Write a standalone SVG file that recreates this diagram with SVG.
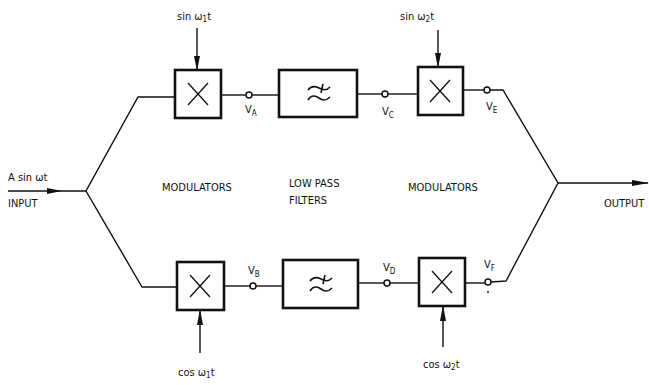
<svg xmlns="http://www.w3.org/2000/svg" width="649" height="385" viewBox="0 0 649 385">
<style>
.ln{fill:none;stroke:#111;stroke-width:1.4}
.bx{fill:#fff;stroke:#111;stroke-width:2.6}
.x{stroke:#111;stroke-width:1.3;fill:none}
.f{stroke:#111;stroke-width:1.6;fill:none}
.c{fill:#fff;stroke:#111;stroke-width:1.5}
.ah{fill:#111}
text{font-family:"Liberation Sans Narrow","DejaVu Sans Condensed","Liberation Sans",sans-serif;font-size:11px;fill:#111}
.s{font-size:8px}
</style>
<defs>
<g id="mul"><line class="x" x1="-10" y1="-11" x2="10" y2="11"/><line class="x" x1="10" y1="-11" x2="-10" y2="11"/></g>
<g id="lpf"><path class="f" d="M-11,-3 C-8,-7 -4,-7 0,-5 S7,-2 11,-6"/><path class="f" d="M-11,7 C-8,2 -4,2 0,5 S7,8 11,4"/><line class="f" x1="4" y1="-9" x2="2" y2="0"/></g>
</defs>
<g id="connectors">
<line class="ln" x1="8" y1="191" x2="86" y2="191"/>
<polygon class="ah" points="62,191 47,188 47,194"/>
<polyline class="ln" points="175,97 138,97 86,191 142,287 177,287"/>
<line class="ln" x1="197" y1="28" x2="197" y2="70"/>
<polygon class="ah" points="197,71 194,56 200,56"/>
<line class="ln" x1="200" y1="353" x2="200" y2="310"/>
<polygon class="ah" points="200,309 197,325 203,325"/>
<line class="ln" x1="221" y1="95" x2="246" y2="95"/>
<line class="ln" x1="252" y1="95" x2="279" y2="95"/>
<line class="ln" x1="357" y1="94" x2="382" y2="94"/>
<line class="ln" x1="388" y1="94" x2="418" y2="94"/>
<line class="ln" x1="438" y1="30" x2="438" y2="67"/>
<polygon class="ah" points="438,68 435,53 441,53"/>
<line class="ln" x1="463" y1="90" x2="484" y2="90"/>
<polyline class="ln" points="490,90 503,90 558,183 506,281 491,282"/>
<line class="ln" x1="558" y1="183" x2="648" y2="183"/>
<polygon class="ah" points="649,183 632,180 632,186"/>
<line class="ln" x1="224" y1="286" x2="250" y2="286"/>
<line class="ln" x1="256" y1="286" x2="283" y2="286"/>
<line class="ln" x1="358" y1="283" x2="384" y2="283"/>
<line class="ln" x1="390" y1="283" x2="419" y2="283"/>
<line class="ln" x1="465" y1="283" x2="485" y2="283"/>
<line class="ln" x1="443" y1="347" x2="443" y2="306"/>
<polygon class="ah" points="443,305 440,321 446,321"/>
</g>
<g id="mod1"><rect class="bx" x="175" y="70" width="46" height="48"/><use href="#mul" x="198" y="94"/></g>
<g id="lpf1"><rect class="bx" x="279" y="70" width="78" height="47"/><use href="#lpf" x="319" y="93"/></g>
<g id="mod2"><rect class="bx" x="418" y="67" width="45" height="48"/><use href="#mul" x="440" y="91"/></g>
<g id="mod3"><rect class="bx" x="177" y="262" width="47" height="48"/><use href="#mul" x="200" y="286"/></g>
<g id="lpf2"><rect class="bx" x="283" y="260" width="75" height="48"/><use href="#lpf" x="321" y="284"/></g>
<g id="mod4"><rect class="bx" x="419" y="258" width="46" height="48"/><use href="#mul" x="442" y="282"/></g>
<g id="nodes">
<circle class="c" cx="249" cy="95" r="3"/>
<circle class="c" cx="385" cy="94" r="3"/>
<circle class="c" cx="487" cy="90" r="3"/>
<circle class="c" cx="253" cy="286" r="3"/>
<circle class="c" cx="387" cy="283" r="3"/>
<circle class="c" cx="488" cy="282" r="3"/>
<circle cx="488" cy="292" r="0.9" fill="#111"/>
</g>
<g id="labels">
<text x="8" y="181">A sin ωt</text>
<text x="8" y="207">INPUT</text>
<text x="177" y="20">sin ω<tspan class="s" dy="2">1</tspan><tspan dy="-2">t</tspan></text>
<text x="178" y="376">cos ω<tspan class="s" dy="2">1</tspan><tspan dy="-2">t</tspan></text>
<text x="400" y="20">sin ω<tspan class="s" dy="2">2</tspan><tspan dy="-2">t</tspan></text>
<text x="423" y="368">cos ω<tspan class="s" dy="2">2</tspan><tspan dy="-2">t</tspan></text>
<text x="245" y="113">V<tspan class="s" dy="3">A</tspan></text>
<text x="382" y="115">V<tspan class="s" dy="3">C</tspan></text>
<text x="486" y="110">V<tspan class="s" dy="3">E</tspan></text>
<text x="248" y="274">V<tspan class="s" dy="3">B</tspan></text>
<text x="383" y="271">V<tspan class="s" dy="3">D</tspan></text>
<text x="484" y="268">V<tspan class="s" dy="3">F</tspan></text>
<text x="162" y="191">MODULATORS</text>
<text x="289" y="187">LOW  PASS</text>
<text x="289" y="204">FILTERS</text>
<text x="408" y="191">MODULATORS</text>
<text x="604" y="207">OUTPUT</text>
</g>
</svg>
